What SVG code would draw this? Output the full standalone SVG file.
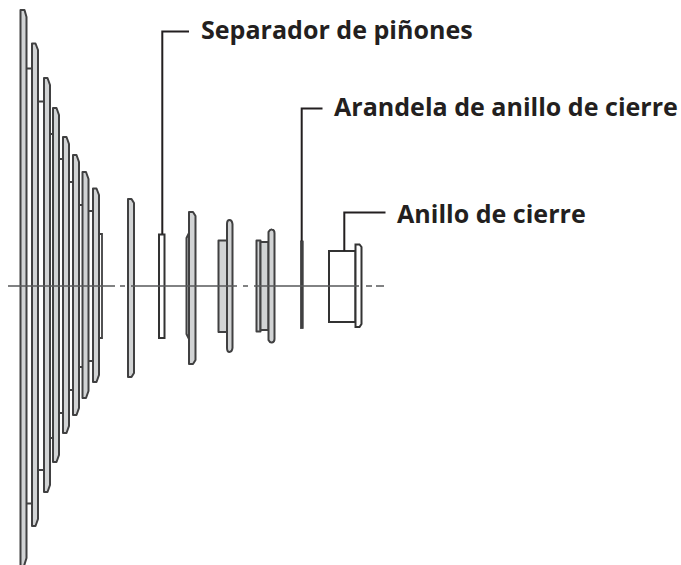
<svg xmlns="http://www.w3.org/2000/svg" width="681" height="565" viewBox="0 0 681 565">
<style>
.p{fill:#d1d3d4;stroke:#404041;stroke-width:2;stroke-linejoin:round}
.w{fill:#fff;stroke:#333;stroke-width:2}
.c{fill:none;stroke:#404041;stroke-width:1.8}
.l{fill:none;stroke:#231f20;stroke-width:2}
.a{fill:none;stroke:#58595b;stroke-width:1.3}
text{font-family:"Open Sans","Noto Sans",sans-serif;font-weight:700;font-size:25.050px;fill:#231f20}
</style>
<rect width="681" height="565" fill="#fff"/>
<g id="sprocket-cassette">
<path class="p" d="M20.500 10H24.500L26.500 17V558L24 566H20.500Z"/>
<path class="p" d="M32 43.500H35.500L38 50V519L35.500 526H32Z"/>
<path class="p" d="M44 78H47.500L50 85V485L47.500 492H44Z"/>
<path class="p" d="M53 108H56.500L59 115V455L56.500 462H53Z"/>
<path class="p" d="M63 137H66.500L69 144V426L66.500 433H63Z"/>
<path class="p" d="M73 155H76.500L79 162V408L76.500 415H73Z"/>
<path class="p" d="M82.500 172H86L88.500 179V391L86 398H82.500Z"/>
<path class="p" d="M93 188.500H96.500L99 195V375L96.500 382H93Z"/>
<path class="c" d="M99 234H102V338H99M26.500 68.500H32M26.500 503.500H32M38 101.500H44M38 470H44M50 134H53M50 438H53M59 159H63M59 413H63M69 182H73M69 390H73M79 205H82.500M79 367H82.500M88.500 211H93M88.500 361H93"/>
</g>
<g id="sprocket-a"><path class="p" d="M128 199H131.500L134 203V373L131.500 377H128Z"/></g>
<g id="separador"><rect class="w" x="159" y="234.500" width="5.500" height="103.500"/></g>
<g id="sprocket-b">
<path class="p" d="M189 233L186.500 238V334L189 339Z"/>
<path class="p" d="M189 212H193L195.500 216V360L193 364H189Z"/>
</g>
<g id="sprocket-c">
<rect class="p" x="218.500" y="240.500" width="8.500" height="91.500"/>
<path class="p" d="M227 224Q227 220 229.500 220Q232 220 232.500 224V348Q232 352 229.500 352Q227 352 227 348Z"/>
</g>
<g id="sprocket-d">
<rect class="p" x="256.500" y="240.500" width="4" height="91"/>
<rect class="p" x="260.500" y="242" width="8" height="88"/>
<path class="p" d="M268.500 232Q270 229 272 229.500Q274.500 230 274.500 233V339Q274.500 342 272 342.500Q270 343 268.500 340Z"/>
</g>
<g id="arandela"><rect x="300.500" y="241" width="2.700" height="87.500" fill="#404041" stroke="#404041" stroke-width=".8"/></g>
<g id="anillo">
<rect class="w" x="329" y="251" width="26.500" height="71"/>
<path class="w" d="M355.500 244.500H359.500L361.500 247V324L359.500 327H355.500Z"/>
</g>
<g id="connectors">
<path class="a" d="M8 286H115M120 286H125M131 286H237M243 286H248M254 286H359M366 286H372M376 286H384"/>
<path class="l" d="M162.300 234V31.500H189"/>
<path class="l" d="M301.700 241V108.500H322.500"/>
<path class="l" d="M344.300 251V212.500H385.500"/>
</g>
<g id="labels">
<text x="201" y="39">Separador de piñones</text>
<text x="334" y="116">Arandela de anillo de cierre</text>
<text x="397" y="222.500">Anillo de cierre</text>
</g>
</svg>
